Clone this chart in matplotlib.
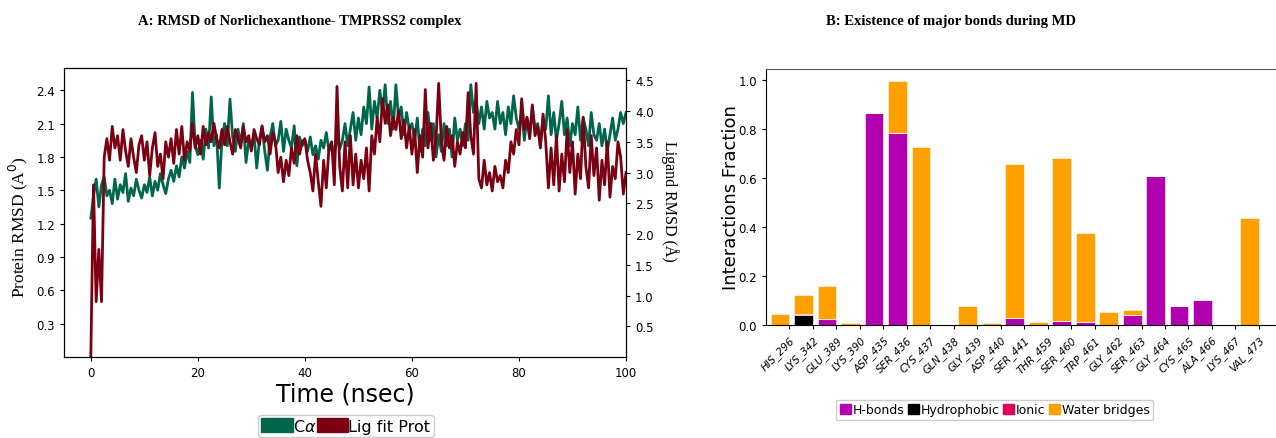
import numpy as np
import matplotlib
matplotlib.use("Agg")
import matplotlib.pyplot as plt
from matplotlib.patches import Patch

# ---- panel A data : RMSD traces, one value every 0.5 ns ----
time_ns = np.arange(0, 100.5, 0.5)

# protein C-alpha RMSD (left axis, A)
ca_rmsd = [
    1.25, 1.45, 1.6, 1.35, 1.55, 1.62, 1.45, 1.5, 1.38, 1.6,
    1.42, 1.55, 1.48, 1.65, 1.4, 1.52, 1.45, 1.6, 1.5, 1.43,
    1.55, 1.48, 1.62, 1.45, 1.58, 1.5, 1.65, 1.55, 1.47, 1.6,
    1.68, 1.58, 1.72, 1.62, 1.8, 1.7, 1.85, 1.75, 2.38, 1.9,
    1.82, 1.95, 1.78, 2.05, 1.88, 2.34, 1.9, 2.0, 1.52, 1.95,
    2.1, 1.9, 2.32, 1.98, 1.85, 2.05, 1.92, 2.1, 1.75, 1.95,
    1.88, 2.0, 1.7, 1.95, 2.08, 1.85, 1.68, 1.98, 2.1, 1.9,
    1.95, 2.12, 1.85, 2.05, 1.95, 1.88, 2.08, 1.72, 1.98, 1.9,
    1.95, 1.85, 1.98, 1.82, 1.9, 1.78, 1.95, 1.88, 2.02, 1.85,
    1.92, 1.8, 2.0, 1.87, 1.95, 2.1, 1.9, 2.05, 2.2, 1.95,
    2.15, 2.0, 2.25, 2.1, 2.43, 2.05, 2.3, 2.15, 2.4, 2.2,
    2.45, 2.1, 2.3, 2.05, 2.45, 2.15, 2.25, 2.0, 2.2, 2.05,
    2.1, 1.95, 2.15, 1.85, 2.05, 1.9, 2.2, 1.95, 2.1, 1.8,
    2.0, 1.85, 2.1, 1.9, 2.05, 1.8, 2.15, 1.95, 2.05, 1.9,
    2.1, 1.95, 2.45, 2.2, 2.3, 2.1, 2.25, 2.05, 2.3, 2.15,
    2.2, 2.05, 2.3, 2.1, 2.2, 2.0, 2.25, 2.1, 2.35, 2.15,
    2.05, 2.2, 1.95, 2.15, 2.0, 2.25, 2.05, 2.1, 1.9, 2.15,
    2.05, 2.35, 2.0, 2.2, 1.95, 2.1, 2.3, 2.0, 2.15, 1.9,
    2.1, 2.0, 2.25, 1.95, 2.15, 2.05, 1.9, 2.2, 2.0, 1.95,
    2.1, 1.9, 2.05, 1.85, 2.0, 2.15, 1.95, 2.05, 2.2, 2.1,
    2.2,
]

# ligand fit on protein RMSD (right axis, A)
lig_rmsd = [
    0.0, 2.8, 0.9, 1.75, 0.9, 3.25, 3.55, 3.2, 3.75, 3.4,
    3.6, 3.2, 3.7, 3.35, 3.1, 3.55, 3.25, 3.0, 3.45, 3.6,
    3.2, 3.5, 2.95, 3.4, 3.65, 3.1, 3.3, 2.9, 3.5, 3.25,
    3.55, 3.15, 3.7, 3.3, 3.75, 3.2, 3.5, 3.35, 3.8, 3.4,
    3.6, 3.3, 3.75, 3.45, 3.65, 3.5, 3.8, 3.55, 3.4, 3.7,
    3.45, 3.75, 3.5, 3.3, 3.7, 3.55, 3.4, 3.75, 3.5, 3.6,
    3.35, 3.7, 3.55, 3.45, 3.75, 3.5, 3.6, 3.3, 3.65, 3.5,
    3.0, 3.25, 2.85, 3.2, 2.95, 3.4, 3.15, 3.6, 3.3, 3.5,
    3.55, 3.2, 3.0, 2.7, 3.3, 2.85, 2.45, 3.2, 2.75, 3.4,
    3.5, 2.8, 4.4, 3.1, 2.7, 3.5, 2.75, 3.6, 2.8, 3.3,
    2.75, 3.2, 2.9, 3.4, 2.7, 3.6, 3.3, 3.9, 3.5, 4.2,
    3.8, 4.1, 3.6, 3.9, 3.7, 4.0, 3.55, 3.85, 3.4, 3.75,
    3.3, 3.7, 3.0, 3.6, 3.25, 4.35, 3.4, 3.8, 3.2, 3.55,
    4.45, 3.5, 3.2, 3.75, 3.4, 3.6, 3.1, 3.5, 3.3, 3.65,
    3.4, 4.3, 3.6, 3.3, 4.45, 2.9, 2.75, 3.2, 2.8, 3.0,
    2.7, 3.1, 2.85, 2.95, 2.75, 3.2, 3.0, 3.5, 3.3, 3.7,
    3.45, 4.2, 3.7, 3.9, 3.55, 4.1, 3.6, 3.75, 3.4, 3.95,
    3.5, 2.75, 3.4, 2.8, 3.6, 2.7, 3.3, 2.85, 3.7, 3.0,
    3.5, 2.65, 3.3, 2.9, 3.9, 3.1, 2.75, 3.6, 2.95, 3.4,
    2.55, 3.2, 2.8, 3.5, 2.6, 3.1, 2.9, 3.5, 3.25, 2.65,
    3.0,
]

# ---- panel B data : interaction fractions per residue ----
residues = ["HIS_296", "LYS_342", "GLU_389", "LYS_390", "ASP_435", "SER_436",
            "CYS_437", "GLN_438", "GLY_439", "ASP_440", "SER_441", "THR_459",
            "SER_460", "TRP_461", "GLY_462", "SER_463", "GLY_464", "CYS_465",
            "ALA_466", "LYS_467", "VAL_473"]
hbonds = [0.0, 0.0, 0.024, 0.0, 0.865, 0.785, 0.0, 0.0, 0.0, 0.0, 0.027,
          0.0, 0.017, 0.012, 0.0, 0.041, 0.608, 0.079, 0.102, 0.0, 0.0]
hydrophobic = [0.0, 0.04, 0.0, 0.0, 0.0, 0.0, 0.0, 0.0, 0.0, 0.0, 0.0,
               0.0, 0.0, 0.0, 0.0, 0.0, 0.0, 0.0, 0.0, 0.0, 0.0]
ionic = [0.0, 0.005, 0.0, 0.0, 0.0, 0.0, 0.0, 0.0, 0.0, 0.002, 0.0,
         0.0, 0.0, 0.0, 0.0, 0.0, 0.0, 0.0, 0.0, 0.0, 0.0]
water = [0.043, 0.077, 0.134, 0.01, 0.0, 0.21, 0.725, 0.0, 0.078, 0.006, 0.632,
         0.012, 0.665, 0.363, 0.055, 0.02, 0.0, 0.0, 0.0, 0.0, 0.436]

green = "#00664c"
dred = "#7a0012"
col_hb = "#b000b0"
col_hp = "#000000"
col_io = "#e0005c"
col_wb = "#ffa000"

fig = plt.figure(figsize=(12.76, 4.39), dpi=100)

# ================= panel A =================
ax = fig.add_axes([0.0502, 0.1845, 0.4404, 0.6583])
ax.plot(time_ns, ca_rmsd, color=green, linewidth=2.0)
ax.set_xlim(-5, 100)
ax.set_ylim(0, 2.6)
ax.set_yticks([0.3, 0.6, 0.9, 1.2, 1.5, 1.8, 2.1, 2.4])
ax.set_xticks([0, 20, 40, 60, 80, 100])
ax.tick_params(labelsize=8.5, length=3)
ax.set_xlabel("Time (nsec)", fontsize=17, labelpad=2)
ax.set_ylabel("Protein RMSD (A$^{0}$)", family="Liberation Serif", fontsize=12.5)
ax.yaxis.set_label_coords(-0.06, 0.452)

ax2 = ax.twinx()
ax2.plot(time_ns, lig_rmsd, color=dred, linewidth=2.0)
ax2.set_ylim(0, 4.7)
ax2.set_yticks([0.5, 1.0, 1.5, 2.0, 2.5, 3.0, 3.5, 4.0, 4.5])
ax2.tick_params(labelsize=8.5, length=3)
ax2.set_ylabel("Ligand RMSD (Å)", family="Liberation Serif", fontsize=11.5,
               rotation=270, va="center")
ax2.yaxis.set_label_coords(1.078, 0.543)

fig.legend(handles=[Patch(color=green, label="C$\\alpha$"),
                    Patch(color=dred, label="Lig fit Prot")],
           loc="center", bbox_to_anchor=(0.271, 0.028), ncol=2,
           fontsize=11.5, handlelength=2.0, handleheight=1.0,
           handletextpad=0.0, columnspacing=0.0, borderpad=0.2,
           fancybox=True, framealpha=1, edgecolor="#cccccc")

fig.text(0.235, 0.951, "A: RMSD of Norlichexanthone- TMPRSS2 complex",
         family="Liberation Serif", fontweight="bold", fontsize=10.5,
         ha="center", va="center")

# ================= panel B =================
bx = fig.add_axes([0.6003, 0.2574, 0.4010, 0.5831])
pos = np.arange(len(residues))
w = 0.8
bottom = np.zeros(len(residues))
for vals, col, lab in [(hbonds, col_hb, "H-bonds"), (hydrophobic, col_hp, "Hydrophobic"),
                       (ionic, col_io, "Ionic"), (water, col_wb, "Water bridges")]:
    bx.bar(pos, vals, w, bottom=bottom, color=col, edgecolor="white", linewidth=0.4, label=lab)
    bottom = bottom + np.array(vals)
bx.set_xlim(-0.6, 21.2)
bx.set_ylim(0, 1.045)
bx.set_xticks(pos + w / 2)
bx.set_xticklabels(residues, rotation=45, ha="right", rotation_mode="anchor",
                   fontsize=7.5, style="italic")
bx.set_yticks([0.0, 0.2, 0.4, 0.6, 0.8, 1.0])
bx.tick_params(axis="y", labelsize=8.5, length=3)
bx.tick_params(axis="x", length=3)
bx.set_ylabel("Interactions Fraction", fontsize=13)
bx.yaxis.set_label_coords(-0.051, 0.5)
bx.spines["top"].set_color("#555555")

fig.legend(handles=[Patch(color=col_hb, label="H-bonds"), Patch(color=col_hp, label="Hydrophobic"),
                    Patch(color=col_io, label="Ionic"), Patch(color=col_wb, label="Water bridges")],
           loc="center", bbox_to_anchor=(0.7795, 0.064), ncol=4, fontsize=9,
           handlelength=0.9, handleheight=0.9, handletextpad=0.15, columnspacing=0.25,
           borderpad=0.3, fancybox=True, framealpha=1, edgecolor="#cccccc")

fig.text(0.745, 0.951, "B: Existence of major bonds during MD",
         family="Liberation Serif", fontweight="bold", fontsize=10.5,
         ha="center", va="center")

fig.savefig("out.png", dpi=100)
